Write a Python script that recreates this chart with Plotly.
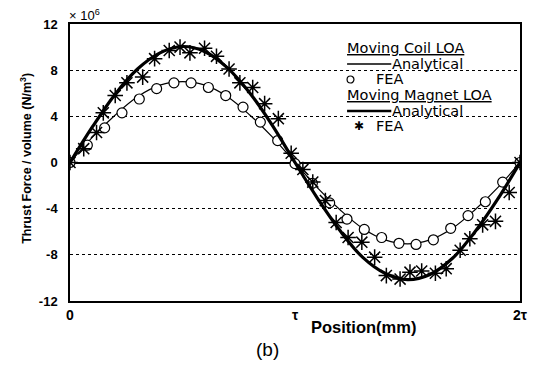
import plotly.graph_objects as go

# ---------------- data (position in units of tau, force in 1e6 N/m^3) ----------------
coil_fea_x = [0, 0.077, 0.154, 0.231, 0.308, 0.385, 0.462, 0.538, 0.615, 0.692, 0.769,
              0.846, 0.923, 1.0, 1.077, 1.154, 1.231, 1.308, 1.385, 1.462, 1.538,
              1.615, 1.692, 1.769, 1.846, 1.923, 2.0]
coil_fea_y = [0, 1.5, 3.0, 4.3, 5.5, 6.4, 6.9, 6.9, 6.5, 5.8, 4.8,
              3.5, 1.9, -0.1, -1.8, -3.5, -4.9, -5.8, -6.5, -7.0, -7.1,
              -6.7, -5.7, -4.6, -3.4, -1.7, 0]

analytic_x = [0, 0.1, 0.2, 0.3, 0.4, 0.5, 0.6, 0.7, 0.8, 0.9, 1.0,
              1.1, 1.2, 1.3, 1.4, 1.5, 1.6, 1.7, 1.8, 1.9, 2.0]
coil_analytic_y = [0, 2.2, 4.1, 5.7, 6.7, 7.0, 6.7, 5.7, 4.1, 2.2, 0,
                   -2.2, -4.1, -5.7, -6.7, -7.05, -6.7, -5.7, -4.1, -2.2, 0]
magnet_analytic_y = [0, 3.1, 5.9, 8.1, 9.5, 10.05, 9.6, 8.2, 6.0, 3.2, 0,
                     -3.1, -5.9, -8.2, -9.6, -10.15, -9.7, -8.3, -6.0, -3.2, 0]

magnet_fea_x = [0, 0.061, 0.118, 0.148, 0.201, 0.253, 0.323, 0.376, 0.441, 0.489,
                0.533, 0.598, 0.651, 0.707, 0.755, 0.812, 0.865, 0.926, 0.983, 1.035,
                1.079, 1.135, 1.183, 1.236, 1.297, 1.354, 1.406, 1.467, 1.511, 1.563,
                1.624, 1.672, 1.734, 1.777, 1.834, 1.891, 1.952, 2.0]
magnet_fea_y = [0, 1.2, 2.6, 4.3, 5.8, 6.9, 7.4, 9.0, 9.7, 10.0,
                9.5, 9.9, 9.2, 8.1, 6.9, 6.5, 5.1, 3.8, 0.8, -0.6,
                -1.7, -3.3, -5.2, -6.5, -6.9, -8.2, -9.8, -10.1, -9.5, -9.4,
                -9.6, -9.2, -7.6, -6.6, -5.4, -5.1, -2.6, 0]

x_tickvals = [0, 1, 2]
x_ticktext = ["0", "τ", "2τ"]
y_tickvals = [-12, -8, -4, 0, 4, 8, 12]
y_ticktext = ["-12", "-8", "-4", "0", "4", "8", "12"]

# ---------------- layout helpers (figure pixels -> paper coords) ----------------
W, H = 537, 371
ML, MR, MT, MB = 70, 9, 24, 70
PW, PH = W - ML - MR, H - MT - MB


def px(x):
    return (x - ML) / PW


def py(y):
    return (H - MB - y) / PH


FONT = "Liberation Sans"

fig = go.Figure()

fig.add_trace(go.Scatter(x=analytic_x, y=coil_analytic_y, mode="lines",
                         line=dict(color="black", width=1.2, shape="spline"),
                         name="Moving Coil Analytical"))
fig.add_trace(go.Scatter(x=coil_fea_x, y=coil_fea_y, mode="markers",
                         marker=dict(symbol="circle", size=10, color="white",
                                     line=dict(color="black", width=1.2)),
                         name="Moving Coil FEA"))
fig.add_trace(go.Scatter(x=analytic_x, y=magnet_analytic_y, mode="lines",
                         line=dict(color="black", width=3.2, shape="spline"),
                         name="Moving Magnet Analytical"))
fig.add_trace(go.Scatter(x=magnet_fea_x, y=magnet_fea_y, mode="markers",
                         marker=dict(symbol="asterisk-open", size=13, color="black",
                                     line=dict(color="black", width=1.5)),
                         name="Moving Magnet FEA"))

shapes = []
annotations = []

# legend background (covers grid lines)
shapes.append(dict(type="rect", xref="paper", yref="paper", layer="between",
                   x0=px(343), x1=px(527), y0=py(142), y1=py(25.5),
                   fillcolor="white", line=dict(width=0)))

LEG_FAMILY = "DejaVu Sans"
LEG_SIZE = 14.5


def leg_text(text, x, y, underline=False):
    f = dict(family=LEG_FAMILY, size=LEG_SIZE, color="black")
    if underline:
        f["lineposition"] = "under"
    annotations.append(dict(text=text, xref="paper", yref="paper", x=px(x), y=py(y),
                            xanchor="left", yanchor="middle", showarrow=False,
                            font=f))


leg_text("Moving Coil LOA", 350, 48, underline=True)
shapes.append(dict(type="line", xref="paper", yref="paper", x0=px(352), x1=px(397),
                   y0=py(64), y1=py(64), line=dict(color="black", width=1.3)))
leg_text("Analytical", 396, 64)
shapes.append(dict(type="circle", xref="paper", yref="paper",
                   x0=px(352), x1=px(359), y0=py(83), y1=py(76),
                   line=dict(color="black", width=1.2), fillcolor="white"))
leg_text("FEA", 379, 79)
leg_text("Moving Magnet LOA", 350, 95, underline=True)
shapes.append(dict(type="line", xref="paper", yref="paper", x0=px(352), x1=px(397),
                   y0=py(111), y1=py(111), line=dict(color="black", width=2.6)))
leg_text("Analytical", 396, 111)
annotations.append(dict(text="✱", xref="paper", yref="paper", x=px(364), y=py(126),
                        xanchor="center", yanchor="middle", showarrow=False,
                        font=dict(family="DejaVu Sans", size=12, color="black")))
leg_text("FEA", 379, 126)

# exponent label
annotations.append(dict(text="× 10<sup>6</sup>", xref="paper", yref="paper",
                        x=px(67), y=py(15), xanchor="left", yanchor="middle",
                        showarrow=False, font=dict(family=FONT, size=13, color="black")))
# y-axis title
annotations.append(dict(text="Thrust Force / volume (N/m<sup>3</sup>)", xref="paper",
                        yref="paper", x=px(25), y=py(158), xanchor="center",
                        yanchor="middle", textangle=-90, showarrow=False,
                        font=dict(family=FONT, size=12.5, color="black", weight="bold")))
# x-axis title
annotations.append(dict(text="Position(mm)", xref="paper", yref="paper",
                        x=px(369), y=py(327), xanchor="center", yanchor="middle",
                        showarrow=False,
                        font=dict(family=FONT, size=16.5, color="black", weight="bold")))
# panel label
annotations.append(dict(text="(b)", xref="paper", yref="paper",
                        x=px(271), y=py(349), xanchor="center", yanchor="middle",
                        showarrow=False, font=dict(family=FONT, size=19, color="black")))

fig.update_layout(
    width=W, height=H,
    margin=dict(l=ML, r=MR, t=MT, b=MB),
    paper_bgcolor="white", plot_bgcolor="white",
    showlegend=False,
    shapes=shapes, annotations=annotations,
    xaxis=dict(range=[0, 2], tickvals=x_tickvals, ticktext=x_ticktext,
               showgrid=False, zeroline=False, showline=True, linecolor="black",
               linewidth=1.5, mirror=True, ticks="", ticklabeloverflow="allow",
               tickfont=dict(family=FONT, size=14, color="black", weight="bold")),
    yaxis=dict(range=[-12, 12], tickvals=y_tickvals, ticktext=y_ticktext,
               showgrid=True, gridcolor="black", gridwidth=1, griddash="3px,3px",
               zeroline=True, zerolinecolor="black", zerolinewidth=1.5,
               showline=True, linecolor="black", linewidth=1.5, mirror=True,
               ticks="", ticklabelstandoff=8,
               tickfont=dict(family=FONT, size=13, color="black", weight="bold")),
)

fig.write_html("out.html")
